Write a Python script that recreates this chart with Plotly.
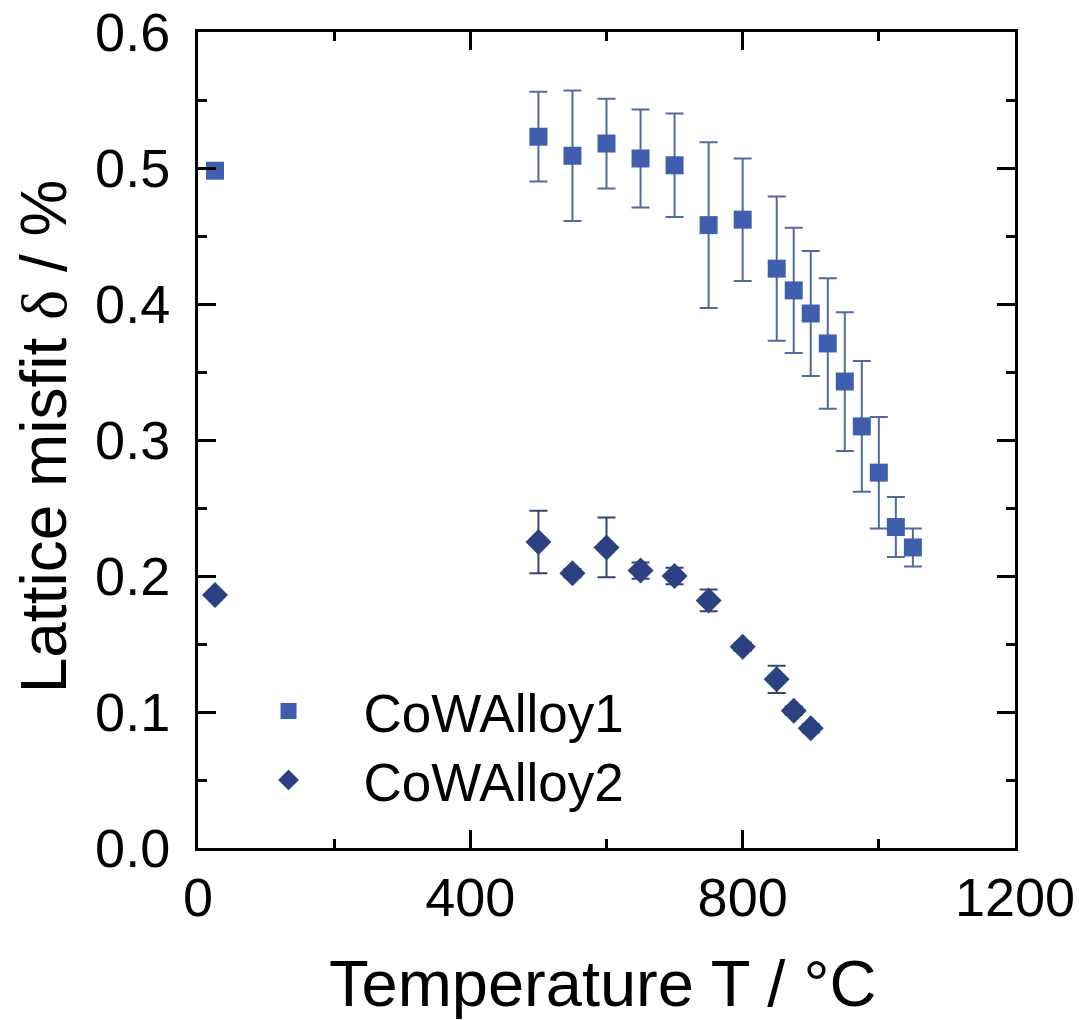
import plotly.graph_objects as go

# Data
t1 = [25, 500, 550, 600, 650, 700, 750, 800, 850, 875, 900, 925, 950, 975, 1000, 1025, 1050]
d1 = [0.498, 0.523, 0.509, 0.518, 0.507, 0.502, 0.458, 0.462, 0.426, 0.410, 0.393, 0.371, 0.343, 0.310, 0.276, 0.236, 0.221]
e1 = [0.0, 0.033, 0.048, 0.033, 0.036, 0.038, 0.061, 0.045, 0.053, 0.046, 0.046, 0.048, 0.051, 0.048, 0.041, 0.022, 0.014]

t2 = [25, 500, 550, 600, 650, 700, 750, 800, 850, 875, 900]
d2 = [0.186, 0.225, 0.202, 0.221, 0.204, 0.200, 0.182, 0.148, 0.124, 0.101, 0.088]
e2 = [0.0, 0.023, 0.003, 0.022, 0.006, 0.006, 0.008, 0.003, 0.010, 0.003, 0.003]

names = ["CoWAlloy1", "CoWAlloy2"]
x_ticks = [0, 400, 800, 1200]
y_ticks = [0.0, 0.1, 0.2, 0.3, 0.4, 0.5, 0.6]

FONT = "Liberation Sans, Arial, sans-serif"

fig = go.Figure()
fig.add_trace(go.Scatter(
    x=t1, y=d1, mode="markers", name=names[0], legend="legend",
    marker=dict(symbol="square", size=18, color="#3F5FAE", line=dict(width=0)),
    error_y=dict(type="data", array=e1, visible=True, color="#56699B", thickness=2, width=9),
))
fig.add_trace(go.Scatter(
    x=t2, y=d2, mode="markers", name=names[1], legend="legend2",
    marker=dict(symbol="diamond", size=20, color="#2B4182", line=dict(width=0)),
    error_y=dict(type="data", array=e2, visible=True, color="#374670", thickness=2, width=9),
))

axis_common = dict(
    showline=True, linecolor="black", linewidth=3, mirror="allticks",
    ticks="inside", ticklen=18, tickwidth=3, tickcolor="black",
    showgrid=False, zeroline=False,
    tickfont=dict(family=FONT, size=54, color="black"),
)

fig.update_xaxes(range=[0, 1200], tickvals=x_ticks, ticktext=[str(v) for v in x_ticks],
                 minor=dict(ticks="inside", ticklen=9, tickwidth=3, tickcolor="black", dtick=200, tick0=0),
                 **axis_common)
fig.update_yaxes(range=[0, 0.6], tickvals=y_ticks, ticktext=[f"{v:.1f}" for v in y_ticks],
                 minor=dict(ticks="inside", ticklen=9, tickwidth=3, tickcolor="black", dtick=0.05, tick0=0),
                 ticklabelstandoff=14,
                 **axis_common)

fig.add_annotation(text="Temperature T / °C", xref="paper", yref="paper",
                   x=0.495, y=-0.166, xanchor="center", yanchor="middle", showarrow=False,
                   font=dict(family=FONT, size=65, color="black"))
fig.add_annotation(text="Lattice misfit <span style=\"font-family:'Liberation Serif'\">δ</span> / %",
                   xref="paper", yref="paper",
                   x=-0.188, y=0.505, xanchor="center", yanchor="middle", showarrow=False,
                   textangle=-90, font=dict(family=FONT, size=64, color="black"))

legend_style = dict(xanchor="left", yanchor="top", bgcolor="rgba(0,0,0,0)", itemwidth=140,
                    font=dict(family=FONT, size=53, color="black"))

fig.update_layout(
    width=1092, height=1020,
    margin=dict(l=198, r=77, t=32, b=172, autoexpand=False),
    paper_bgcolor="white", plot_bgcolor="white",
    showlegend=True,
    legend=dict(x=0.019, y=0.218, **legend_style),
    legend2=dict(x=0.019, y=0.1336, **legend_style),
)

fig.write_html("out.html")
